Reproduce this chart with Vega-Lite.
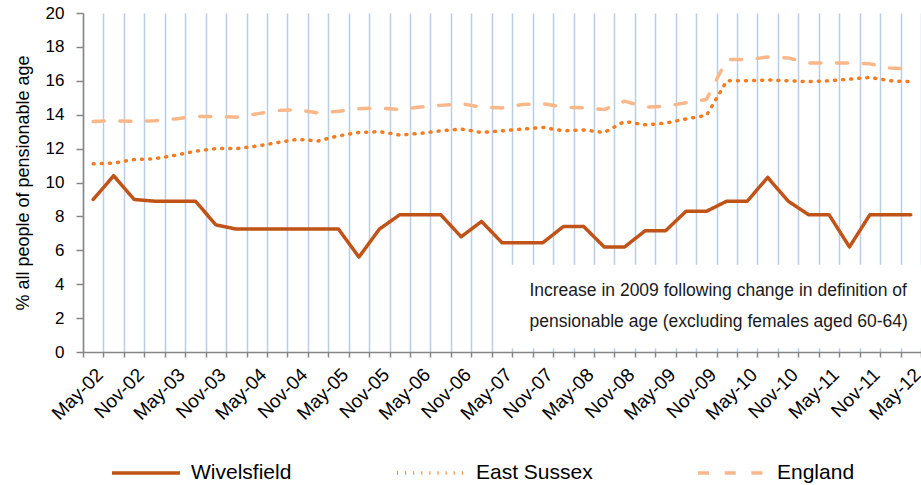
{
  "$schema": "https://vega.github.io/schema/vega-lite/v6.json",
  "width": 838,
  "height": 339,
  "autosize": {"type": "none"},
  "padding": {"left": 83, "top": 13, "right": 0, "bottom": 133},
  "background": "white",
  "config": {
    "view": {"stroke": null},
    "font": "Liberation Sans",
    "legend": {"title": null},
    "axis": {"labelOverlap": false},
    "axisY": {"labelOverlap": false, "labelSeparation": -8, "grid": false, "tickCount": 20}
  },
  "datasets": {
    "series": [
      {"period": "May-02", "Wivelsfield": 9.0, "East Sussex": 11.1, "England": 13.6},
      {"period": "Aug-02", "Wivelsfield": 10.4, "East Sussex": 11.15, "England": 13.65},
      {"period": "Nov-02", "Wivelsfield": 9.0, "East Sussex": 11.35, "England": 13.6},
      {"period": "Feb-03", "Wivelsfield": 8.9, "East Sussex": 11.4, "England": 13.65},
      {"period": "May-03", "Wivelsfield": 8.9, "East Sussex": 11.6, "England": 13.75},
      {"period": "Aug-03", "Wivelsfield": 8.9, "East Sussex": 11.85, "England": 13.9},
      {"period": "Nov-03", "Wivelsfield": 7.5, "East Sussex": 12.0, "England": 13.9},
      {"period": "Feb-04", "Wivelsfield": 7.25, "East Sussex": 12.0, "England": 13.85},
      {"period": "May-04", "Wivelsfield": 7.25, "East Sussex": 12.15, "England": 14.05},
      {"period": "Aug-04", "Wivelsfield": 7.25, "East Sussex": 12.35, "England": 14.25},
      {"period": "Nov-04", "Wivelsfield": 7.25, "East Sussex": 12.55, "England": 14.3},
      {"period": "Feb-05", "Wivelsfield": 7.25, "East Sussex": 12.45, "England": 14.1},
      {"period": "May-05", "Wivelsfield": 7.25, "East Sussex": 12.75, "England": 14.2},
      {"period": "Aug-05", "Wivelsfield": 5.6, "East Sussex": 12.95, "England": 14.35},
      {"period": "Nov-05", "Wivelsfield": 7.25, "East Sussex": 13.0, "England": 14.4},
      {"period": "Feb-06", "Wivelsfield": 8.1, "East Sussex": 12.8, "England": 14.3},
      {"period": "May-06", "Wivelsfield": 8.1, "East Sussex": 12.9, "England": 14.45},
      {"period": "Aug-06", "Wivelsfield": 8.1, "East Sussex": 13.05, "England": 14.55},
      {"period": "Nov-06", "Wivelsfield": 6.8, "East Sussex": 13.15, "England": 14.65},
      {"period": "Feb-07", "Wivelsfield": 7.7, "East Sussex": 12.95, "England": 14.45},
      {"period": "May-07", "Wivelsfield": 6.45, "East Sussex": 13.05, "England": 14.4},
      {"period": "Aug-07", "Wivelsfield": 6.45, "East Sussex": 13.15, "England": 14.6},
      {"period": "Nov-07", "Wivelsfield": 6.45, "East Sussex": 13.25, "England": 14.65},
      {"period": "Feb-08", "Wivelsfield": 7.4, "East Sussex": 13.05, "England": 14.45},
      {"period": "May-08", "Wivelsfield": 7.4, "East Sussex": 13.1, "England": 14.4},
      {"period": "Aug-08", "Wivelsfield": 6.2, "East Sussex": 12.95, "England": 14.3},
      {"period": "Nov-08", "Wivelsfield": 6.2, "East Sussex": 13.6, "England": 14.8},
      {"period": "Feb-09", "Wivelsfield": 7.15, "East Sussex": 13.4, "England": 14.45},
      {"period": "May-09", "Wivelsfield": 7.15, "East Sussex": 13.5, "England": 14.5},
      {"period": "Aug-09", "Wivelsfield": 8.3, "East Sussex": 13.75, "England": 14.7},
      {"period": "Nov-09", "Wivelsfield": 8.3, "East Sussex": 13.95, "England": 14.9},
      {"period": "Feb-10", "Wivelsfield": 8.9, "East Sussex": 16.0, "England": 17.25},
      {"period": "May-10", "Wivelsfield": 8.9, "East Sussex": 16.0, "England": 17.25},
      {"period": "Aug-10", "Wivelsfield": 10.3, "East Sussex": 16.05, "England": 17.4},
      {"period": "Nov-10", "Wivelsfield": 8.9, "East Sussex": 16.0, "England": 17.35},
      {"period": "Feb-11", "Wivelsfield": 8.1, "East Sussex": 15.95, "England": 17.05},
      {"period": "May-11", "Wivelsfield": 8.1, "East Sussex": 16.0, "England": 17.05},
      {"period": "Aug-11", "Wivelsfield": 6.2, "East Sussex": 16.1, "England": 17.05},
      {"period": "Nov-11", "Wivelsfield": 8.1, "East Sussex": 16.2, "England": 17.0},
      {"period": "Feb-12", "Wivelsfield": 8.1, "East Sussex": 16.0, "England": 16.75},
      {"period": "May-12", "Wivelsfield": 8.1, "East Sussex": 15.95, "England": 16.7}
    ]
  },
  "layer": [
    {
      "data": {"name": "series"},
      "transform": [{"fold": ["Wivelsfield", "East Sussex", "England"], "as": ["series", "value"]}],
      "mark": {"type": "line", "strokeCap": "round", "strokeJoin": "round"},
      "encoding": {
        "x": {
          "field": "period",
          "type": "ordinal",
          "sort": null,
          "bandPosition": 0.5,
          "scale": {
            "type": "band",
            "paddingInner": 0,
            "paddingOuter": 0,
            "domain": ["May-02","Aug-02","Nov-02","Feb-03","May-03","Aug-03","Nov-03","Feb-04","May-04","Aug-04","Nov-04","Feb-05","May-05","Aug-05","Nov-05","Feb-06","May-06","Aug-06","Nov-06","Feb-07","May-07","Aug-07","Nov-07","Feb-08","May-08","Aug-08","Nov-08","Feb-09","May-09","Aug-09","Nov-09","Feb-10","May-10","Aug-10","Nov-10","Feb-11","May-11","Aug-11","Nov-11","Feb-12","May-12"]
          },
          "axis": {
            "title": null,
            "tickBand": "extent",
            "grid": true,
            "gridColor": "#B9CDE5",
            "gridWidth": 1.5,
            "tickColor": "#868686",
            "tickSize": 5,
            "tickWidth": 1.5,
            "domainColor": "#868686",
            "domainWidth": 1.5,
            "labelAngle": -45,
            "labelFontSize": 19,
            "labelColor": "#000000",
            "labelPadding": 8,
            "labelOverlap": false,
            "labelExpr": "test(/^(May|Nov)/, datum.label) ? datum.label : ''"
          }
        },
        "y": {
          "field": "value",
          "type": "quantitative",
          "scale": {"domain": [0, 20], "nice": false},
          "axis": {
            "title": "% all people of pensionable age",
            "titleFontSize": 18,
            "titleFontWeight": "normal",
            "titleColor": "#000000",
            "titlePadding": 13,
            "values": [0, 2, 4, 6, 8, 10, 12, 14, 16, 18, 20],
            "tickCount": 20,
            "labelOverlap": false,
            "labelSeparation": -8,
            "grid": false,
            "tickSize": 7,
            "tickColor": "#868686",
            "tickWidth": 1.5,
            "domainColor": "#868686",
            "domainWidth": 1.5,
            "labelFontSize": 17,
            "labelColor": "#000000",
            "labelPadding": 12
          }
        },
        "color": {
          "field": "series",
          "type": "nominal",
          "scale": {"domain": ["Wivelsfield", "East Sussex", "England"], "range": ["#BF5318", "#F47C20", "#F9B78A"]},
          "legend": {
            "title": null,
            "orient": "none",
            "legendX": 27,
            "legendY": 424,
            "direction": "horizontal",
            "symbolType": "stroke",
            "symbolSize": 4624,
            "labelFontSize": 21,
            "labelColor": "#000000",
            "labelOffset": 9,
            "columnPadding": 98,
            "padding": 0
          }
        },
        "strokeDash": {
          "field": "series",
          "type": "nominal",
          "scale": {"domain": ["Wivelsfield", "East Sussex", "England"], "range": [[1, 0], [1, 7.1], [11, 15.7]]}
        },
        "strokeWidth": {
          "field": "series",
          "type": "nominal",
          "scale": {"domain": ["Wivelsfield", "East Sussex", "England"], "range": [3.5, 3.5, 4.5]}
        }
      }
    },
    {
      "data": {"values": [{}]},
      "mark": {"type": "rect", "color": "white", "x2Offset": 20},
      "encoding": {
        "x": {"datum": "May-07", "type": "ordinal", "bandPosition": 0.5},
        "x2": {"datum": "May-12"},
        "y": {"datum": 0.22, "type": "quantitative"},
        "y2": {"datum": 5.15}
      }
    },
    {
      "data": {"values": [{}]},
      "mark": {
        "type": "text",
        "align": "left",
        "baseline": "middle",
        "fontSize": 17.5,
        "lineHeight": 31,
        "color": "#1a1a1a",
        "dx": 7,
        "text": ["Increase in 2009 following change in definition of", "pensionable age (excluding females aged 60-64)"]
      },
      "encoding": {
        "x": {"datum": "Aug-07", "type": "ordinal", "bandPosition": 0.5},
        "y": {"datum": 3.6, "type": "quantitative"}
      }
    }
  ]
}
